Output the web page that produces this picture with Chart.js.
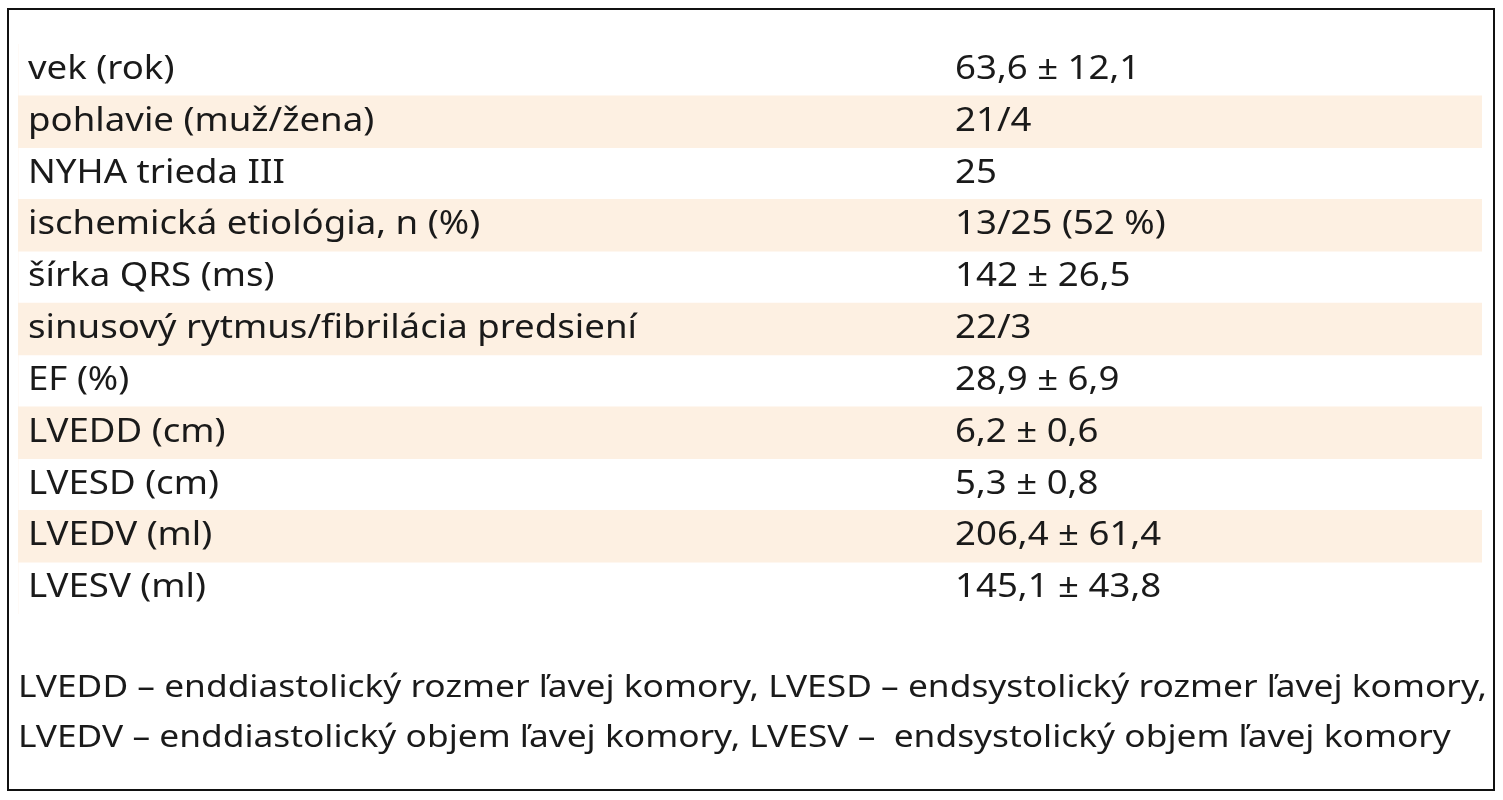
<!DOCTYPE html>
<html>
<head>
<meta charset="utf-8">
<script src="https://cdn.jsdelivr.net/npm/chart.js@4"></script>
<style>
  html, body { margin: 0; padding: 0; background: #fff; }
  #wrap { width: 1503px; height: 800px; }
</style>
</head>
<body>
<div id="wrap"><canvas id="tableChart"></canvas></div>
<script>
// row labels and values of the table
var rowLabels = ['vek (rok)', 'pohlavie (muž/žena)', 'NYHA trieda III', 'ischemická etiológia, n (%)',
    'šírka QRS (ms)', 'sinusový rytmus/fibrilácia predsiení', 'EF (%)', 'LVEDD (cm)', 'LVESD (cm)',
    'LVEDV (ml)', 'LVESV (ml)'];
var rowValues = ['63,6 ± 12,1', '21/4', '25', '13/25 (52 %)', '142 ± 26,5', '22/3', '28,9 ± 6,9',
    '6,2 ± 0,6', '5,3 ± 0,8', '206,4 ± 61,4', '145,1 ± 43,8'];
var shaded = [0, 1, 0, 1, 0, 1, 0, 1, 0, 1, 0];
var footnotes = ['LVEDD – enddiastolický rozmer ľavej komory, LVESD – endsystolický rozmer ľavej komory,',
    'LVEDV – enddiastolický objem ľavej komory, LVESV –  endsystolický objem ľavej komory'];

var FONT = '"Noto Sans", sans-serif';

// draw text stretched horizontally by sx
function drawText(ctx, text, x, y, sx) {
    ctx.save();
    ctx.translate(x, y);
    ctx.scale(sx, 1);
    ctx.fillText(text, 0, 0);
    ctx.restore();
}

var tableText = {
    id: 'tableText',
    afterDatasetsDraw: function(chart) {
        var ctx = chart.ctx;
        var yScale = chart.scales.y;
        ctx.save();
        ctx.fillStyle = '#1a1a1a';
        ctx.textBaseline = 'middle';
        ctx.font = '32px ' + FONT;
        var sx = 609 / ctx.measureText(rowLabels[5]).width;
        for (var i = 0; i < rowLabels.length; i++) {
            var y = yScale.getPixelForValue(i);
            drawText(ctx, rowLabels[i], 28, y, sx);
            drawText(ctx, rowValues[i], 955, y, sx);
        }
        ctx.font = '31px ' + FONT;
        var fx = 1469 / ctx.measureText(footnotes[0]).width;
        drawText(ctx, footnotes[0], 18, 688, fx);
        drawText(ctx, footnotes[1], 18, 738, fx);
        // outer frame
        ctx.strokeStyle = '#111';
        ctx.lineWidth = 2;
        ctx.strokeRect(8, 9, 1486, 781);
        ctx.restore();
    }
};

new Chart(document.getElementById('tableChart'), {
    type: 'bar',
    data: {
        labels: rowLabels,
        datasets: [{
            data: shaded,
            backgroundColor: '#fdf0e2',
            barPercentage: 1,
            categoryPercentage: 1
        }]
    },
    options: {
        indexAxis: 'y',
        responsive: true,
        maintainAspectRatio: false,
        animation: false,
        layout: { padding: { left: 18, right: 21, top: 44, bottom: 186 } },
        plugins: { legend: { display: false }, tooltip: { enabled: false } },
        scales: {
            x: { display: false, min: 0, max: 1 },
            y: { display: false }
        }
    },
    plugins: [tableText]
});
</script>
</body>
</html>
